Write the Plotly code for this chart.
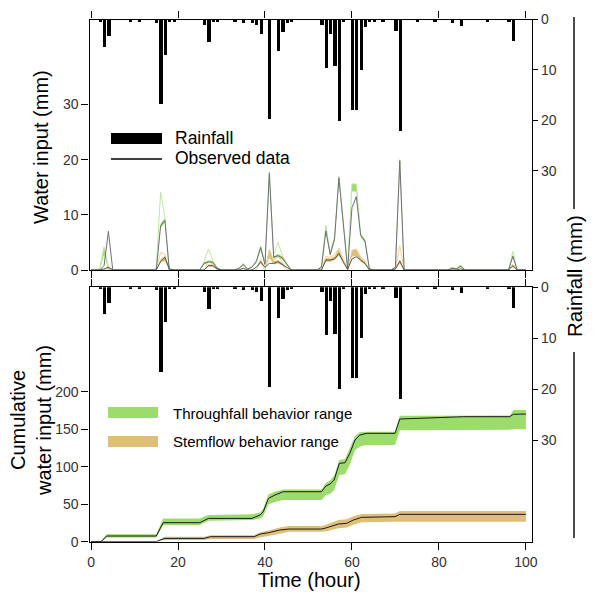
import plotly.graph_objects as go

# The page body has an 8px margin, so the figure is drawn 8px in from the window edge.
OFF = 8
W, H = 596 - 2 * OFF, 600 - OFF
FONT = "Liberation Sans, Arial, sans-serif"

hours = list(range(0, 101))

# ---------------- hourly rainfall (mm) ----------------
rain = {2: 0.3, 3: 5.4, 4: 3.1, 9: 0.3, 11: 0.2, 15: 0.5, 16: 16.7, 17: 6.9, 18: 0.2, 19: 0.2,
        26: 1.0, 27: 4.4, 28: 0.4, 29: 0.2, 33: 0.3, 35: 0.5, 37: 0.5, 38: 1.0, 39: 2.8,
        41: 19.6, 43: 6.1, 44: 2.4, 45: 0.6, 46: 0.2, 53: 1.0, 54: 9.5, 55: 2.8, 56: 9.2,
        57: 20.1, 58: 0.3, 60: 17.8, 61: 17.8, 62: 10.0, 63: 1.3, 64: 0.2, 65: 0.2, 67: 0.3,
        70: 2.1, 71: 22.1, 75: 0.2, 79: 0.2, 83: 0.5, 85: 1.1, 91: 0.2, 96: 0.3, 97: 4.1}

# ---------------- hourly water input (mm), top panel ----------------
tf_obs = {3: 0.8, 4: 7.0, 16: 8.0, 17: 9.0, 26: 1.2, 27: 1.5, 28: 1.4, 29: 0.3, 34: 0.3, 35: 1.0,
          36: 0.2, 37: 0.5, 38: 1.5, 39: 4.1, 40: 1.0, 41: 17.5, 42: 2.3, 43: 2.6, 44: 2.2, 45: 1.0,
          53: 0.5, 54: 7.1, 55: 2.8, 56: 5.6, 57: 16.7, 58: 8.0, 59: 0.2, 60: 11.3, 61: 13.3,
          62: 6.3, 63: 5.2, 64: 0.2, 70: 0.5, 71: 19.8, 83: 0.3, 84: 0.2, 85: 0.7, 97: 2.5}
tf_lo = {3: 2.8, 4: 0.0, 16: 7.6, 17: 8.6, 26: 1.0, 27: 1.3, 28: 1.2, 29: 0.2, 34: 0.2, 35: 0.8,
         36: 0.1, 37: 0.4, 38: 1.3, 39: 3.6, 40: 0.8, 41: 17.0, 42: 2.0, 43: 2.3, 44: 1.9, 45: 0.8,
         53: 0.4, 54: 6.8, 55: 2.5, 56: 5.3, 57: 16.3, 58: 7.6, 59: 0.1, 60: 14.2, 61: 14.2,
         62: 6.0, 63: 4.9, 64: 0.1, 70: 0.4, 71: 19.4, 83: 0.2, 84: 0.1, 85: 0.5, 97: 2.3}
tf_hi = {2: 0.3, 3: 4.2, 4: 0.5, 16: 8.4, 17: 9.4, 26: 1.4, 27: 1.7, 28: 1.6, 29: 0.4, 34: 0.4,
         35: 1.2, 36: 0.3, 37: 0.6, 38: 1.7, 39: 4.3, 40: 1.2, 41: 17.8, 42: 2.5, 43: 2.9, 44: 2.5,
         45: 1.2, 53: 0.6, 54: 7.4, 55: 3.1, 56: 5.9, 57: 17.0, 58: 8.3, 59: 0.3, 60: 15.6,
         61: 15.6, 62: 6.6, 63: 5.5, 64: 0.3, 70: 0.6, 71: 20.0, 83: 0.4, 84: 0.3, 85: 0.9, 97: 2.8}
tf_env = {2: 0.3, 3: 4.2, 4: 0.5, 15: 0.3, 16: 14.1, 17: 9.5, 26: 1.6, 27: 3.8, 28: 1.8, 29: 0.5,
          35: 1.2, 37: 0.6, 38: 1.7, 39: 4.3, 40: 1.2, 41: 17.8, 42: 2.8, 43: 5.0, 44: 2.6, 45: 1.2,
          53: 0.8, 54: 8.1, 55: 3.2, 56: 6.0, 57: 17.0, 58: 8.3, 59: 0.3, 60: 15.6, 61: 15.6,
          62: 6.6, 63: 5.5, 64: 0.3, 70: 0.6, 71: 20.0, 83: 0.5, 84: 0.3, 85: 0.9, 97: 3.4}
sf_obs = {3: 0.2, 4: 0.5, 16: 1.5, 17: 2.3, 18: 0.2, 27: 0.8, 28: 0.8, 29: 0.2, 35: 0.3, 38: 0.5,
          39: 1.5, 40: 0.5, 41: 1.2, 42: 1.2, 43: 1.5, 44: 1.0, 45: 0.4, 54: 1.8, 55: 1.8, 56: 2.0,
          57: 3.0, 58: 1.5, 59: 0.1, 60: 2.0, 61: 2.4, 62: 1.8, 63: 1.2, 70: 0.2, 71: 1.6, 85: 0.2,
          97: 0.8}
sf_lo = {4: 0.2, 16: 1.5, 17: 1.6, 27: 0.6, 28: 0.6, 39: 1.2, 41: 2.2, 42: 1.0, 43: 1.2, 44: 0.8,
         54: 1.5, 55: 1.5, 56: 1.8, 57: 2.6, 58: 1.2, 60: 2.4, 61: 2.6, 62: 1.5, 63: 1.0, 71: 1.2,
         97: 0.5}
sf_hi = {4: 0.5, 16: 2.0, 17: 2.6, 27: 1.0, 28: 1.0, 39: 1.8, 41: 3.8, 42: 1.6, 43: 1.8, 44: 1.3,
         54: 2.2, 55: 2.1, 56: 2.5, 57: 3.8, 58: 1.8, 60: 3.6, 61: 3.8, 62: 2.2, 63: 1.5, 71: 2.0,
         97: 1.0}
sf_env = {4: 0.6, 16: 3.2, 17: 2.8, 27: 1.5, 28: 1.1, 39: 2.0, 41: 3.8, 42: 1.8, 43: 2.5, 44: 1.5,
          54: 2.5, 55: 2.3, 56: 2.8, 57: 4.0, 58: 2.0, 60: 3.6, 61: 3.8, 62: 2.4, 63: 1.7, 71: 4.4,
          97: 1.0}

# ---------------- cumulative water input (mm), bottom panel ----------------
cum_tf_t = [0, 2.3, 3.6, 15.0, 16.6, 25.0, 27.0, 37.0, 38.9, 39.6, 40.8, 42.3, 44.2, 53.0, 54.0,
            55.0, 55.9, 57.1, 58.4, 59.5, 60.7, 61.8, 63.4, 69.9, 71.0, 75.0, 85.6, 96.3, 97.1, 100]
cum_tf_obs = [0, 0, 7.6, 7.6, 25.4, 25.4, 31.1, 31.1, 35.6, 40.0, 57.8, 62.3, 66.7, 66.7, 74.3,
              77.0, 82.3, 104.5, 105.4, 117.9, 135.7, 142.3, 144.6, 144.6, 163.7, 164.5, 166.8,
              166.8, 170.0, 170.4]
cum_tf_lo = [0, 0, 5.5, 5.5, 22.2, 22.2, 28.0, 28.9, 31.0, 34.0, 50.0, 53.0, 55.6, 55.6, 62.0,
             64.0, 69.0, 89.0, 90.0, 103.0, 122.0, 127.0, 128.9, 128.9, 148.6, 148.6, 149.2,
             149.5, 150.0, 150.0]
cum_tf_hi = [0, 0.5, 9.8, 9.8, 31.0, 31.0, 35.6, 36.5, 39.0, 44.0, 63.0, 67.0, 69.5, 69.5, 78.0,
             82.0, 88.0, 109.0, 110.0, 124.0, 141.0, 146.0, 146.8, 146.8, 168.0, 168.2, 168.5,
             168.5, 175.7, 175.7]

cum_sf_t = [0, 15.0, 16.0, 17.0, 26.0, 27.5, 37.5, 38.9, 40.8, 43.4, 45.5, 53.0, 54.2, 56.9,
            58.8, 60.3, 62.2, 69.9, 71.0, 100]
cum_sf_obs = [0, 0, 2.5, 4.4, 4.4, 6.7, 6.7, 10.2, 12.0, 15.6, 16.9, 16.9, 18.7, 23.6, 24.5,
              28.9, 32.5, 33.4, 36.5, 36.5]
cum_sf_lo = [0, 0, 1.5, 2.2, 2.2, 3.5, 3.5, 6.0, 7.5, 10.5, 13.3, 13.3, 14.0, 18.0, 19.0, 22.5,
             26.0, 26.7, 26.7, 26.7]
cum_sf_hi = [0, 0, 3.5, 6.7, 6.7, 8.5, 8.5, 12.5, 15.0, 19.0, 20.9, 20.9, 23.0, 29.0, 30.0,
             34.0, 37.0, 37.8, 40.9, 40.9]

x_ticks = [0, 20, 40, 60, 80, 100]
wi_ticks_top = [0, 10, 20, 30]
wi_ticks_bot = [0, 50, 100, 150, 200]
rain_ticks = [0, 10, 20, 30]

GREEN = "#9bdc6c"
TAN = "#dfbf78"


def series(d):
    return [d.get(h, 0.0) for h in hours]


rain_h = sorted(rain)
rain_v = [rain[h] for h in rain_h]

fig = go.Figure()
none = dict(showlegend=False, hoverinfo="skip")

# ---- top panel ----
fig.add_trace(go.Scatter(x=hours, y=series(tf_lo), mode="lines", line=dict(width=0),
                         xaxis="x", yaxis="y", **none))
fig.add_trace(go.Scatter(x=hours, y=series(tf_hi), mode="lines", line=dict(width=0),
                         fill="tonexty", fillcolor=GREEN, xaxis="x", yaxis="y", **none))
fig.add_trace(go.Scatter(x=hours, y=series(sf_lo), mode="lines", line=dict(width=0),
                         xaxis="x", yaxis="y", **none))
fig.add_trace(go.Scatter(x=hours, y=series(sf_hi), mode="lines", line=dict(width=0),
                         fill="tonexty", fillcolor=TAN, xaxis="x", yaxis="y", **none))
fig.add_trace(go.Scatter(x=hours, y=series(tf_env), mode="lines",
                         line=dict(width=1, color="#bfe7a0"), xaxis="x", yaxis="y", **none))
fig.add_trace(go.Scatter(x=hours, y=series(sf_env), mode="lines",
                         line=dict(width=1, color="#ecd29c"), xaxis="x", yaxis="y", **none))
fig.add_trace(go.Scatter(x=hours, y=series(tf_obs), mode="lines",
                         line=dict(width=1, color="#6f6f78"), xaxis="x", yaxis="y", **none))
fig.add_trace(go.Scatter(x=hours, y=series(sf_obs), mode="lines",
                         line=dict(width=0.9, color="#4a4a4a"), xaxis="x", yaxis="y", **none))
fig.add_trace(go.Bar(x=rain_h, y=rain_v, width=0.75, marker=dict(color="black", line=dict(width=0)),
                     xaxis="x", yaxis="y2", **none))

# ---- bottom panel ----
fig.add_trace(go.Scatter(x=cum_tf_t, y=cum_tf_lo, mode="lines", line=dict(width=0),
                         xaxis="x2", yaxis="y3", **none))
fig.add_trace(go.Scatter(x=cum_tf_t, y=cum_tf_hi, mode="lines", line=dict(width=0),
                         fill="tonexty", fillcolor=GREEN, xaxis="x2", yaxis="y3", **none))
fig.add_trace(go.Scatter(x=cum_sf_t, y=cum_sf_lo, mode="lines", line=dict(width=0),
                         xaxis="x2", yaxis="y3", **none))
fig.add_trace(go.Scatter(x=cum_sf_t, y=cum_sf_hi, mode="lines", line=dict(width=0),
                         fill="tonexty", fillcolor=TAN, xaxis="x2", yaxis="y3", **none))
fig.add_trace(go.Scatter(x=cum_tf_t, y=cum_tf_obs, mode="lines", line=dict(width=1, color="#1a1a1a"),
                         xaxis="x2", yaxis="y3", **none))
fig.add_trace(go.Scatter(x=cum_sf_t, y=cum_sf_obs, mode="lines", line=dict(width=1, color="#1a1a1a"),
                         xaxis="x2", yaxis="y3", **none))
fig.add_trace(go.Bar(x=rain_h, y=rain_v, width=0.75, marker=dict(color="black", line=dict(width=0)),
                     xaxis="x2", yaxis="y4", **none))


def px(v):
    return (v - OFF) / W


def py(v):
    return 1 - (v - OFF) / H


XDOM = [px(89.5), px(532)]
XR = [-0.35, 101.4]
tickfont = dict(family=FONT, size=14, color="#333333")
common_x = dict(range=XR, domain=XDOM, showline=True, linecolor="black", linewidth=1.3,
                ticks="outside", ticklen=7, tickwidth=1.2, tickcolor="black", mirror="ticks",
                tickvals=x_ticks, showgrid=False, zeroline=False, tickfont=tickfont,
                automargin=False)
common_yl = dict(showline=True, linecolor="black", linewidth=1.3, ticks="outside", ticklen=7,
                 tickwidth=1.2, tickcolor="black", showgrid=False, zeroline=False, tickfont=tickfont,
                 automargin=False)
common_yr = dict(showline=True, linecolor="black", linewidth=1.3, ticks="outside", ticklen=5,
                 tickwidth=1.2, tickcolor="black", showgrid=False, zeroline=False, tickfont=tickfont,
                 side="right", tickvals=rain_ticks, automargin=False)

top_dom = [py(270), py(19.5)]
bot_dom = [py(541.7), py(287.3)]

fig.update_layout(
    width=W, height=H, autosize=False,
    margin=dict(l=0, r=0, t=0, b=0, pad=0),
    paper_bgcolor="white", plot_bgcolor="rgba(0,0,0,0)",
    showlegend=False, bargap=0,
    font=dict(family=FONT, color="black"),
    xaxis=dict(anchor="y", showticklabels=False, **common_x),
    xaxis2=dict(anchor="y3", showticklabels=True, **common_x),
    yaxis=dict(domain=top_dom, anchor="x", range=[0, 45.38], tickvals=wi_ticks_top, **common_yl),
    yaxis2=dict(domain=top_dom, anchor="x", overlaying="y", range=[49.7, 0], **common_yr),
    yaxis3=dict(domain=bot_dom, anchor="x2", range=[0, 339.5], tickvals=wi_ticks_bot, **common_yl),
    yaxis4=dict(domain=bot_dom, anchor="x2", overlaying="y3", range=[49.98, 0], **common_yr),
)

ann = []


def text(x, y, s, size, angle=0, xanchor="center"):
    ann.append(dict(x=px(x), y=py(y), xref="paper", yref="paper", text=s, showarrow=False,
                    textangle=angle, xanchor=xanchor, yanchor="middle",
                    font=dict(family=FONT, size=size, color="black")))


text(41, 147, "Water input (mm)", 20, -90)
text(31, 421, "Cumulative<br>water input (mm)", 20, -90)
text(309, 580, "Time (hour)", 20)
text(575, 276, "Rainfall (mm)", 20.5, -90)
text(173, 138, "Rainfall", 17.5, 0, "left")
text(173, 158, "Observed data", 17.5, 0, "left")
text(171, 413, "Throughfall behavior range", 15, 0, "left")
text(171, 441, "Stemflow behavior range", 15, 0, "left")

shapes = []


def rect(x0, y0, x1, y1, color):
    shapes.append(dict(type="rect", xref="paper", yref="paper", x0=px(x0), x1=px(x1),
                       y0=py(y1), y1=py(y0), fillcolor=color, line=dict(width=0)))


def vline(x, y0, y1, w=1.4):
    shapes.append(dict(type="line", xref="paper", yref="paper", x0=px(x), x1=px(x),
                       y0=py(y0), y1=py(y1), line=dict(color="black", width=w)))


rect(111, 133, 162, 144, "black")
shapes.append(dict(type="line", xref="paper", yref="paper", x0=px(111), x1=px(162),
                   y0=py(159), y1=py(159), line=dict(color="black", width=1.5)))
rect(108, 407, 158, 418, GREEN)
rect(108, 436, 158, 447, TAN)
vline(574, 17, 209)
vline(574, 352, 538)

fig.update_layout(annotations=ann, shapes=shapes)
fig.write_html("out.html")
